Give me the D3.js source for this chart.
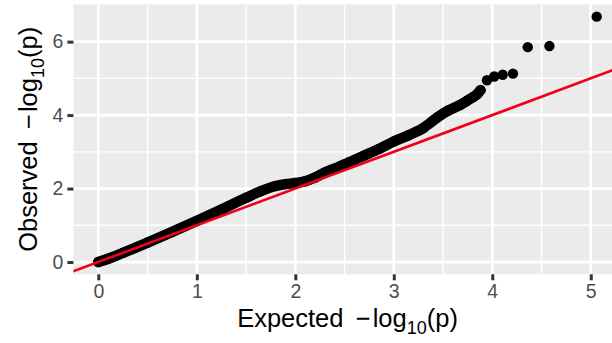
<!DOCTYPE html>
<html>
<head>
<meta charset="utf-8">
<script src="https://cdn.jsdelivr.net/npm/d3@7"></script>
<style>
  html, body { margin: 0; padding: 0; background: #ffffff; }
  svg { display: block; }
  text { font-family: "Liberation Sans", Arial, Helvetica, sans-serif; }
</style>
</head>
<body>
<div id="chart"></div>
<script>
// Expected and observed -log10(p) (sorted ascending)
const expected = [0, 0.1, 0.25, 0.5, 0.75, 1.0, 1.25, 1.5, 1.65, 1.8, 1.9, 2.0, 2.1, 2.2, 2.3, 2.45, 2.6, 2.7, 2.85, 3.0, 3.15, 3.3, 3.45, 3.55, 3.67, 3.75, 3.81, 3.85, 3.88, 3.946, 4.02, 4.106, 4.21, 4.36, 4.58, 5.06];
const observed = [0, 0.09, 0.25, 0.53, 0.82, 1.12, 1.43, 1.75, 1.93, 2.07, 2.12, 2.15, 2.2, 2.3, 2.44, 2.6, 2.78, 2.9, 3.08, 3.28, 3.45, 3.65, 3.95, 4.12, 4.27, 4.4, 4.5, 4.58, 4.68, 4.95, 5.05, 5.1, 5.13, 5.85, 5.88, 6.68];
// number of leading points that form the continuous dense band
const denseCount = 29;
const xTicks = [0, 1, 2, 3, 4, 5];
const yTicks = [0, 2, 4, 6];
const xMinor = [0.5, 1.5, 2.5, 3.5, 4.5];
const yMinor = [1, 3, 5];
const refLine = [-1, 8]; // y = x reference line

const W = 612, H = 343;
const panel = { left: 73.4, top: 4.4, right: 621.6, bottom: 274.3 };

const xExt = d3.extent(expected), yExt = d3.extent(observed);
const xPad = (xExt[1] - xExt[0]) * 0.05, yPad = (yExt[1] - yExt[0]) * 0.05;
const x = d3.scaleLinear().domain([xExt[0] - xPad, xExt[1] + xPad]).range([panel.left, panel.right]);
const y = d3.scaleLinear().domain([yExt[0] - yPad, yExt[1] + yPad]).range([panel.bottom, panel.top]);

const svg = d3.select("#chart").append("svg").attr("width", W).attr("height", H);
svg.append("rect").attr("width", W).attr("height", H).attr("fill", "#ffffff");

svg.append("defs").append("clipPath").attr("id", "clip")
  .append("rect").attr("x", panel.left).attr("y", panel.top)
  .attr("width", panel.right - panel.left).attr("height", panel.bottom - panel.top);

svg.append("rect").attr("x", panel.left).attr("y", panel.top)
  .attr("width", panel.right - panel.left).attr("height", panel.bottom - panel.top)
  .attr("fill", "#EBEBEB");

const grid = svg.append("g");
grid.selectAll(".xm").data(xMinor).join("line")
  .attr("x1", d => x(d)).attr("x2", d => x(d)).attr("y1", panel.top).attr("y2", panel.bottom)
  .attr("stroke", "#fff").attr("stroke-width", 1.4);
grid.selectAll(".ym").data(yMinor).join("line")
  .attr("y1", d => y(d)).attr("y2", d => y(d)).attr("x1", panel.left).attr("x2", panel.right)
  .attr("stroke", "#fff").attr("stroke-width", 1.4);
grid.selectAll(".xM").data(xTicks).join("line")
  .attr("x1", d => x(d)).attr("x2", d => x(d)).attr("y1", panel.top).attr("y2", panel.bottom)
  .attr("stroke", "#fff").attr("stroke-width", 2.7);
grid.selectAll(".yM").data(yTicks).join("line")
  .attr("y1", d => y(d)).attr("y2", d => y(d)).attr("x1", panel.left).attr("x2", panel.right)
  .attr("stroke", "#fff").attr("stroke-width", 2.7);

const plot = svg.append("g").attr("clip-path", "url(#clip)");
const pts = expected.map((e, i) => ({ e, o: observed[i] }));

// dense band
const line = d3.line().x(d => x(d.e)).y(d => y(d.o)).curve(d3.curveMonotoneX);
plot.append("path").datum(pts.slice(0, denseCount))
  .attr("d", line).attr("fill", "none").attr("stroke", "#000")
  .attr("stroke-width", 10.5).attr("stroke-linecap", "round").attr("stroke-linejoin", "round");

plot.selectAll("circle").data(pts).join("circle")
  .attr("cx", d => x(d.e)).attr("cy", d => y(d.o)).attr("r", 5.2).attr("fill", "#000");

// reference line y = x
plot.append("line")
  .attr("x1", x(refLine[0])).attr("y1", y(refLine[0]))
  .attr("x2", x(refLine[1])).attr("y2", y(refLine[1]))
  .attr("stroke", "#F0001C").attr("stroke-width", 2.6);

// axes
const xAxis = d3.axisBottom(x).tickValues(xTicks).tickSize(6).tickPadding(4).tickFormat(d3.format("d"));
const gx = svg.append("g").attr("transform", `translate(0,${panel.bottom})`).call(xAxis);
gx.select(".domain").remove();
gx.selectAll(".tick line").attr("stroke", "#333333").attr("stroke-width", 3);
gx.selectAll(".tick text").attr("fill", "#4D4D4D").attr("font-size", 19.5);

const yAxis = d3.axisLeft(y).tickValues(yTicks).tickSize(6).tickPadding(4).tickFormat(d3.format("d"));
const gy = svg.append("g").attr("transform", `translate(${panel.left},0)`).call(yAxis);
gy.select(".domain").remove();
gy.selectAll(".tick line").attr("stroke", "#333333").attr("stroke-width", 3);
gy.selectAll(".tick text").attr("fill", "#4D4D4D").attr("font-size", 19.5);

function title(g, word) {
  const t = g.append("text").attr("text-anchor", "middle").attr("font-size", 25.5).attr("fill", "#000");
  t.append("tspan").text(word + " \u2009\u2212\u200Alog");
  t.append("tspan").attr("font-size", 18).attr("dy", 6.5).text("10");
  t.append("tspan").attr("dy", -6.5).text("(p)");
  return t;
}
const cx = (panel.left + panel.right) / 2;
title(svg.append("g").attr("transform", `translate(${cx},327)`), "Expected");
const cy = (panel.top + panel.bottom) / 2;
title(svg.append("g").attr("transform", `translate(37,${cy}) rotate(-90)`), "Observed");
</script>
</body>
</html>
